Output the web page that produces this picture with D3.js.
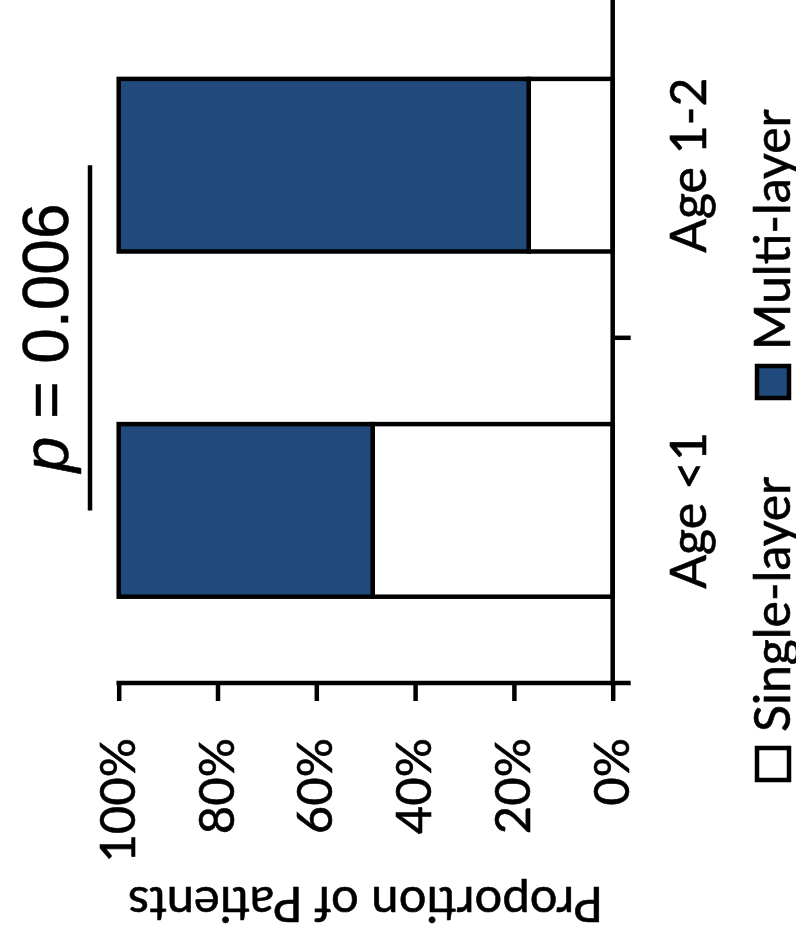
<!DOCTYPE html>
<html>
<head>
<meta charset="utf-8">
<script src="https://cdn.jsdelivr.net/npm/d3@7/dist/d3.min.js"></script>
<style>
  html, body { margin: 0; padding: 0; background: #fff; }
  svg { display: block; }
  .lbl { font-family: Lato, 'Open Sans', sans-serif; fill: #000; stroke: #000; stroke-width: 0.6px; }
</style>
</head>
<body>
<svg id="chart" width="796" height="946"></svg>
<script>
// Proportion of patients with single- vs multi-layer closure, by age group
const categories = ["Age <1", "Age 1-2"];
const seriesNames = ["Single-layer", "Multi-layer"];
const singleLayer = [48.6, 17.0];   // percent
const multiLayer  = [51.4, 83.0];   // percent
const tickValues  = [0, 20, 40, 60, 80, 100];
const axisTitle   = "Proportion of Patients";
const pValue      = "0.006";

const seriesColor = { "Single-layer": "#ffffff", "Multi-layer": "#214a7c" };

const pageW = 796, pageH = 946;
const LW = 4.5;               // line weight used for axes, ticks and outlines
const TICK = 18;

const svg = d3.select("#chart");

// The chart is laid out as an ordinary column chart and then turned
// a quarter turn counter-clockwise on the page.
const g = svg.append("g")
  .attr("transform", `translate(0,${pageH}) rotate(-90)`);

const x = d3.scaleBand()
  .domain(categories)
  .range([263, 953.4])
  .paddingInner(0.5)
  .paddingOuter(0.25);

const y = d3.scaleLinear()
  .domain([0, 100])
  .range([612.7, 118.7]);

const rows = categories.map((c, i) => ({
  cat: c,
  "Single-layer": singleLayer[i],
  "Multi-layer": multiLayer[i]
}));
const stacked = d3.stack().keys(seriesNames)(rows);

// stacked bars
g.append("g").selectAll("g")
  .data(stacked)
  .join("g")
    .attr("fill", s => seriesColor[s.key])
  .selectAll("rect")
  .data(s => s)
  .join("rect")
    .attr("x", d => x(d.data.cat))
    .attr("y", d => y(d[1]))
    .attr("width", x.bandwidth())
    .attr("height", d => y(d[0]) - y(d[1]))
    .attr("stroke", "#000")
    .attr("stroke-width", LW);

const x0 = x.range()[0];
const baseY = y(0);

// value axis
const yAxis = g.append("g")
  .attr("transform", `translate(${x0},0)`)
  .call(d3.axisLeft(y)
    .tickValues(tickValues)
    .tickFormat(d => d + "%")
    .tickSize(TICK)
    .tickSizeOuter(0)
    .tickPadding(37));
yAxis.select(".domain").remove();
yAxis.selectAll(".tick line").attr("stroke", "#000").attr("stroke-width", LW);
yAxis.selectAll(".tick text")
  .attr("class", "lbl")
  .attr("font-family", null)
  .attr("fill", null)
  .attr("font-size", 49);
g.append("line")
  .attr("x1", x0).attr("x2", x0)
  .attr("y1", y(100) - LW / 2).attr("y2", baseY + TICK)
  .attr("stroke", "#000").attr("stroke-width", LW);

// category axis with ticks on the band boundaries
g.append("line")
  .attr("x1", x0 - LW / 2).attr("x2", x.range()[1])
  .attr("y1", baseY).attr("y2", baseY)
  .attr("stroke", "#000").attr("stroke-width", LW);
const gap = x.step() - x.bandwidth();
const boundaries = categories.map(c => x(c) + x.bandwidth() + gap / 2);
g.append("g").selectAll("line")
  .data(boundaries)
  .join("line")
    .attr("x1", d => d).attr("x2", d => d)
    .attr("y1", baseY).attr("y2", baseY + TICK)
    .attr("stroke", "#000").attr("stroke-width", LW);

g.append("g").selectAll("text")
  .data(categories)
  .join("text")
    .attr("class", "lbl")
    .attr("x", d => x(d) + x.bandwidth() / 2)
    .attr("y", 706)
    .attr("text-anchor", "middle")
    .attr("font-size", 50)
    .text(d => d);

// axis title
g.append("text")
  .attr("class", "lbl")
  .attr("transform", `translate(59,${(y(0) + y(100)) / 2}) rotate(-90)`)
  .attr("text-anchor", "middle")
  .attr("font-size", 49)
  .text(axisTitle);

// significance bracket
const c0 = x(categories[0]) + x.bandwidth() / 2;
const c1 = x(categories[1]) + x.bandwidth() / 2;
g.append("line")
  .attr("x1", c0).attr("x2", c1)
  .attr("y1", 90).attr("y2", 90)
  .attr("stroke", "#000").attr("stroke-width", LW);
const pText = g.append("text")
  .attr("x", (c0 + c1) / 2)
  .attr("y", 68)
  .attr("text-anchor", "middle")
  .attr("font-family", "'Liberation Sans', Arial, sans-serif")
  .attr("font-size", 64)
  .attr("fill", "#000")
  .attr("stroke", "#000")
  .attr("stroke-width", 0.5);
pText.append("tspan").attr("font-style", "italic").text("p");
pText.append("tspan").text(" = " + pValue);

// legend
const legendItems = [
  { key: "Single-layer", at: 166 },
  { key: "Multi-layer",  at: 548 }
];
const leg = g.append("g").selectAll("g")
  .data(legendItems)
  .join("g")
    .attr("transform", d => `translate(${d.at},757)`);
leg.append("rect")
  .attr("width", 32).attr("height", 32)
  .attr("fill", d => seriesColor[d.key])
  .attr("stroke", "#000").attr("stroke-width", LW);
leg.append("text")
  .attr("class", "lbl")
  .attr("x", 48)
  .attr("y", 33)
  .attr("font-size", 50)
  .text(d => d.key);
</script>
</body>
</html>
